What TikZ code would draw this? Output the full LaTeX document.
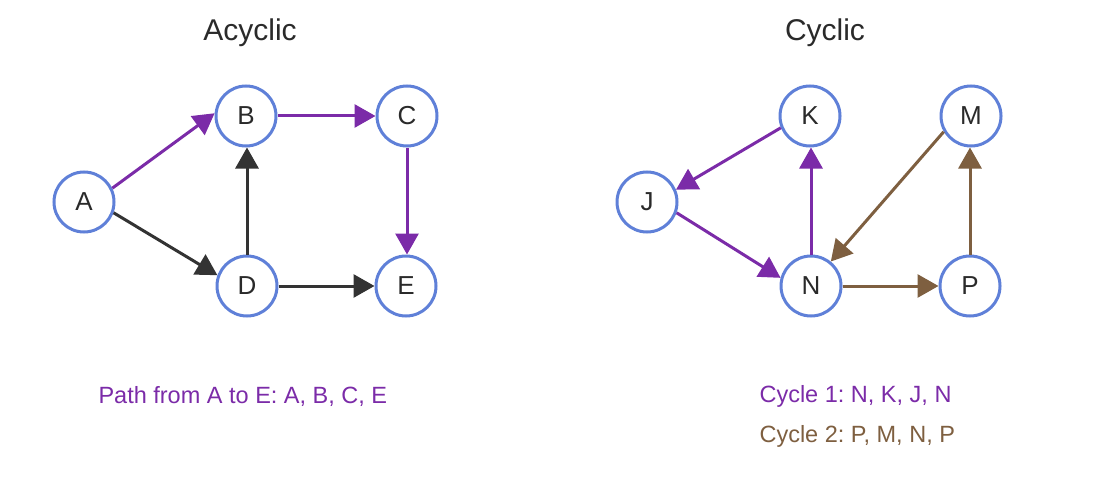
\documentclass[tikz,border=0pt]{standalone}
\usepackage{fontspec}
\setmainfont{Liberation Sans}
\usetikzlibrary{arrows.meta}
\definecolor{nodeblue}{HTML}{5F80D8}
\definecolor{purp}{HTML}{7B2BA8}
\definecolor{brown}{HTML}{7E5F40}
\definecolor{dark}{HTML}{333333}
\definecolor{txt}{HTML}{2A2A2A}
\frenchspacing
\begin{document}
\begin{tikzpicture}[x=1pt,y=-1pt,
  vtx/.style={circle,draw=nodeblue,line width=3pt,minimum size=60pt,inner sep=0pt,
    font=\fontsize{26}{26}\selectfont,text=txt,fill=white},
  edge/.style={line width=3pt,-{Triangle[length=21pt,width=23pt]}},
  title/.style={font=\fontsize{30}{30}\selectfont,text=txt},
  lbl/.style={font=\fontsize{23.5}{23.5}\selectfont,anchor=west}]
\useasboundingbox (0,0) rectangle (1094,492);
\node[title] (t1) at (250,33) {Acyclic};
\node[title] (t2) at (825,33) {Cyclic};
\node[vtx] (A) at (84,202) {A};
\node[vtx] (B) at (246,116) {B};
\node[vtx] (C) at (407,116) {C};
\node[vtx] (D) at (247,286) {D};
\node[vtx] (E) at (406,286) {E};
\node[vtx] (J) at (647,202) {J};
\node[vtx] (K) at (810,116) {K};
\node[vtx] (M) at (971,116) {M};
\node[vtx] (N) at (811,286) {N};
\node[vtx] (P) at (970,286) {P};
\draw[edge,purp] (A.26) -- (B.175);
\draw[edge,purp] (B) -- (C);
\draw[edge,purp] (C) -- (C |- E.north);
\draw[edge,dark] (A.-20) -- (D.160);
\draw[edge,dark] (D) -- (D |- B.south);
\draw[edge,dark] (D) -- (E);
\draw[edge,purp] (K.202) -- (J.23);
\draw[edge,purp] (J.-20) -- (N.165);
\draw[edge,purp] (N) -- (N |- K.south);
\draw[edge,brown] (M.210) -- (N.51);
\draw[edge,brown] (N) -- (P);
\draw[edge,brown] (P) -- (P |- M.south);
\node[lbl,text=purp] (l1) at (95,396) {Path from A to E: A, B, C, E};
\node[lbl,text=purp] (l2) at (756,396) {Cycle 1: N, K, J, N};
\node[lbl,text=brown] (l3) at (756,436) {Cycle 2: P, M, N, P};
\end{tikzpicture}
\end{document}
